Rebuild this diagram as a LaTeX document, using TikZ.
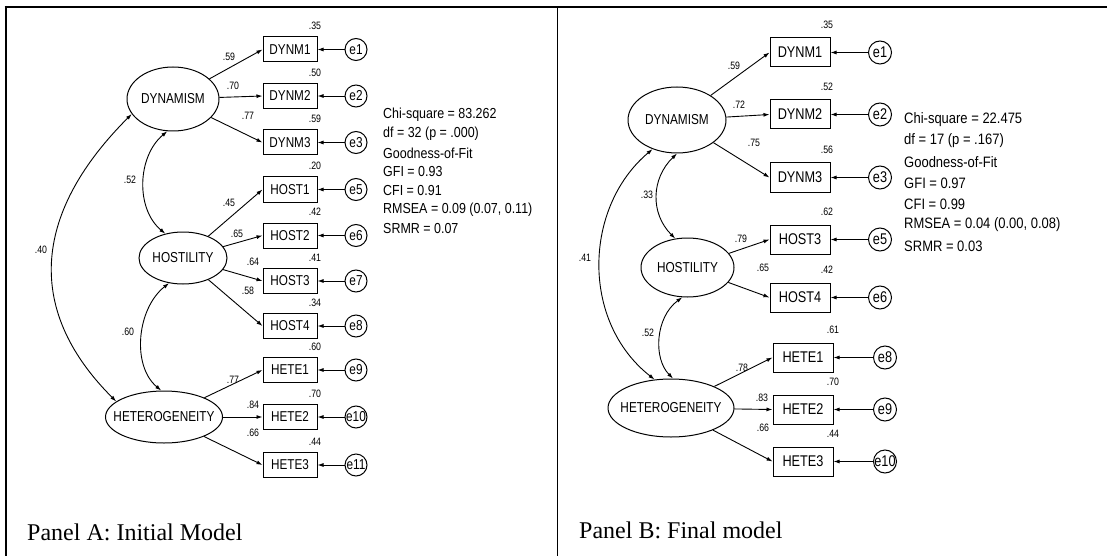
\documentclass[tikz,border=0pt]{standalone}
\usepackage{fontspec}
\setmainfont{Liberation Serif}
\newfontfamily\amos[FakeStretch=0.82]{Liberation Sans}
\newfontfamily\statfont[FakeStretch=0.86]{Liberation Sans}
\usetikzlibrary{arrows.meta,shapes.geometric}
\begin{document}
\begin{tikzpicture}[x=1pt,y=-1pt,
  lat/.style={draw,ellipse,line width=1pt,inner sep=0pt,font=\amos\fontsize{14.4}{16}\selectfont},
  obsA/.style={draw,rectangle,line width=1pt,minimum width=54pt,minimum height=25pt,inner sep=0pt,font=\amos\fontsize{14.3}{16}\selectfont},
  obsB/.style={obsA,minimum width=60pt,minimum height=29pt,font=\amos\fontsize{15.5}{17}\selectfont},
  err/.style={draw,circle,line width=1pt,minimum size=22pt,inner sep=0pt,font=\amos\fontsize{14.4}{16}\selectfont},
  errB/.style={err,minimum size=23pt,font=\amos\fontsize{15.5}{17}\selectfont},
  num/.style={inner sep=0pt,font=\amos\fontsize{10.7}{12}\selectfont},
  tip/.tip={Latex[length=6pt,width=4pt]},
  load/.style={line width=0.9pt,-tip},
  cov/.style={line width=0.9pt,tip-tip},
  statA/.style={anchor=west,inner sep=0pt,font=\statfont\fontsize{14.5}{16}\selectfont},
  statB/.style={anchor=west,inner sep=0pt,font=\statfont\fontsize{15.1}{17}\selectfont},
  panel/.style={anchor=base west,inner sep=0pt,font=\fontsize{24}{26}\selectfont}
]
\useasboundingbox (0,0) rectangle (1107,556);
% frame
\draw[line width=2pt] (4.5,7) -- (1107,7);
\draw[line width=2pt] (5.5,6) -- (5.5,556);
\draw[line width=1.8pt] (557.5,7) -- (557.5,556);

% ---------------- Panel A ----------------
\node[lat,minimum width=92pt,minimum height=64pt] (dynA) at (173,99) {\makebox[0pt]{DYNAMISM}};
\node[lat,minimum width=88pt,minimum height=52pt] (hosA) at (183,258) {\makebox[0pt]{HOSTILITY}};
\node[lat,minimum width=117pt,minimum height=52pt] (hetA) at (164,417) {\makebox[0pt]{HETEROGENEITY}};

\foreach \n/\y/\t/\e/\r in {1/49.5/DYNM1/e1/.35, 2/96/DYNM2/e2/.50, 3/142.5/DYNM3/e3/.59,
  4/189.5/HOST1/e5/.20, 5/235.5/HOST2/e6/.42, 6/281/HOST3/e7/.41, 7/326/HOST4/e8/.34,
  8/370/HETE1/e9/.60, 9/417/HETE2/e10/.70, 10/465/HETE3/e11/.44}{
  \node[obsA] (a\n) at (290,\y) {\t};
  \node[err] (ea\n) at (356,\y) {\makebox[0pt]{\e}};
  \draw[load] (ea\n) -- (a\n);
  \node[num] (ra\n) at (315,\y-23.5) {\r};
}
\foreach \n/\v/\lx/\ly in {1/.59/229/57, 2/.70/233/86, 3/.77/248/116}{
  \draw[load] (dynA) -- (a\n.west);
  \node[num] (la\n) at (\lx,\ly) {\v};
}
\foreach \n/\v/\lx/\ly in {4/.45/229/203, 5/.65/237/234, 6/.64/253/262, 7/.58/248/291}{
  \draw[load] (hosA) -- (a\n.west);
  \node[num] (la\n) at (\lx,\ly) {\v};
}
\foreach \n/\v/\lx/\ly in {8/.77/233/380, 9/.84/253/405, 10/.66/253/433}{
  \draw[load] (hetA) -- (a\n.west);
  \node[num] (la\n) at (\lx,\ly) {\v};
}
\draw[cov] (dynA.260) .. controls +(-30,25) and +(-30,-25) .. (hosA.126);
\draw[cov] (hosA.241) .. controls +(-32,25) and +(-30,-25) .. (hetA.96);
\draw[cov] (dynA.200) .. controls +(-95,95) and +(-95,-95) .. (hetA.162);
\node[num] (cA1) at (130,180) {.52};
\node[num] (cA2) at (128,332) {.60};
\node[num] (cA3) at (41,250) {.40};

\node[statA] (sA1) at (383,115) {Chi-square = 83.262};
\node[statA] (sA2) at (383,134) {df = 32 (p = .000)};
\node[statA] (sA3) at (383,153) {Goodness-of-Fit};
\node[statA] (sA4) at (383,172) {GFI = 0.93};
\node[statA] (sA5) at (383,191) {CFI = 0.91};
\node[statA] (sA6) at (383,210) {RMSEA = 0.09 (0.07, 0.11)};
\node[statA] (sA7) at (383,229) {SRMR = 0.07};

\node[panel] (pA) at (27,540) {Panel A: Initial Model};

% ---------------- Panel B ----------------
\node[lat,minimum width=98pt,minimum height=66pt] (dynB) at (677,120) {\makebox[0pt]{DYNAMISM}};
\node[lat,minimum width=93pt,minimum height=59pt] (hosB) at (687.5,267.5) {\makebox[0pt]{HOSTILITY}};
\node[lat,minimum width=126pt,minimum height=58pt] (hetB) at (671,408) {\makebox[0pt]{HETEROGENEITY}};

\foreach \n/\x/\y/\t/\e/\ex/\r/\rx in {1/800/52.5/DYNM1/e1/880/.35/827, 2/800/114.5/DYNM2/e2/880/.52/827,
  3/800/177.5/DYNM3/e3/880/.56/827, 4/800/239.5/HOST3/e5/880/.62/827, 5/800/297.5/HOST4/e6/880/.42/827,
  6/803/357.5/HETE1/e8/885/.61/833, 7/803/409.5/HETE2/e9/885/.70/833, 8/803/461.5/HETE3/e10/885/.44/833}{
  \node[obsB] (b\n) at (\x,\y) {\t};
  \node[errB] (eb\n) at (\ex,\y) {\makebox[0pt]{\e}};
  \draw[load] (eb\n) -- (b\n);
  \node[num] (rb\n) at (\rx,\y-27.5) {\r};
}
\foreach \n/\v/\lx/\ly in {1/.59/734/66, 2/.72/739/105, 3/.75/754/143}{
  \draw[load] (dynB) -- (b\n.west);
  \node[num] (lb\n) at (\lx,\ly) {\v};
}
\foreach \n/\v/\lx/\ly in {4/.79/741/239, 5/.65/763/268}{
  \draw[load] (hosB) -- (b\n.west);
  \node[num] (lb\n) at (\lx,\ly) {\v};
}
\foreach \n/\v/\lx/\ly in {6/.78/742/368, 7/.83/762/398, 8/.66/763/428}{
  \draw[load] (hetB) -- (b\n.west);
  \node[num] (lb\n) at (\lx,\ly) {\v};
}
\draw[cov] (dynB.270) .. controls +(-26,25) and +(-25,-25) .. (hosB.113);
\draw[cov] (hosB.260) .. controls +(-27,20) and +(-20,-20) .. (hetB.86);
\draw[cov] (dynB.230) .. controls +(-69,58) and +(-74,-58) .. (hetB.120);
\node[num] (cB1) at (647,195) {.33};
\node[num] (cB2) at (648,333) {.52};
\node[num] (cB3) at (585,258) {.41};

\node[statB] (sB1) at (904,120) {Chi-square = 22.475};
\node[statB] (sB2) at (904,141) {df = 17 (p = .167)};
\node[statB] (sB3) at (904,162) {Goodness-of-Fit};
\node[statB] (sB4) at (904,183) {GFI = 0.97};
\node[statB] (sB5) at (904,204) {CFI = 0.99};
\node[statB] (sB6) at (904,225) {RMSEA = 0.04 (0.00, 0.08)};
\node[statB] (sB7) at (904,246) {SRMR = 0.03};

\node[panel] (pB) at (579,538) {Panel B: Final model};
\end{tikzpicture}
\end{document}
